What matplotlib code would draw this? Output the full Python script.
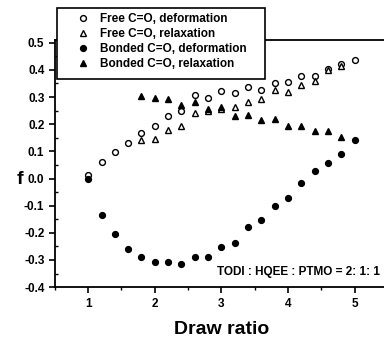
import matplotlib
matplotlib.use('Agg')
import matplotlib.pyplot as plt
from matplotlib.ticker import MultipleLocator
from matplotlib.patches import Rectangle

plt.rcParams['font.family'] = ['Liberation Sans', 'DejaVu Sans']
plt.rcParams['font.weight'] = 'bold'

# Data
x_free_def = [1.0, 1.2, 1.4, 1.6, 1.8, 2.0, 2.2, 2.4, 2.6, 2.8, 3.0,
              3.2, 3.4, 3.6, 3.8, 4.0, 4.2, 4.4, 4.6, 4.8, 5.0]
f_free_def = [0.012, 0.06, 0.097, 0.13, 0.167, 0.192, 0.229, 0.249, 0.306, 0.296, 0.321,
              0.315, 0.338, 0.326, 0.353, 0.355, 0.378, 0.376, 0.405, 0.42, 0.438]

x_free_rel = [1.8, 2.0, 2.2, 2.4, 2.6, 2.8, 3.0, 3.2, 3.4, 3.6, 3.8, 4.0, 4.2, 4.4, 4.6, 4.8]
f_free_rel = [0.14, 0.145, 0.178, 0.195, 0.243, 0.25, 0.255, 0.262, 0.282, 0.292,
              0.325, 0.319, 0.344, 0.358, 0.398, 0.414]

x_bond_def = [1.0, 1.2, 1.4, 1.6, 1.8, 2.0, 2.2, 2.4, 2.6, 2.8, 3.0,
              3.2, 3.4, 3.6, 3.8, 4.0, 4.2, 4.4, 4.6, 4.8, 5.0]
f_bond_def = [0.0, -0.134, -0.204, -0.258, -0.288, -0.308, -0.308, -0.313, -0.288, -0.288, -0.252,
              -0.237, -0.18, -0.152, -0.103, -0.071, -0.018, 0.028, 0.058, 0.089, 0.143]

x_bond_rel = [1.8, 2.0, 2.2, 2.4, 2.6, 2.8, 3.0, 3.2, 3.4, 3.6, 3.8, 4.0, 4.2, 4.4, 4.6, 4.8]
f_bond_rel = [0.304, 0.296, 0.292, 0.271, 0.28, 0.256, 0.262, 0.231, 0.234, 0.215,
              0.219, 0.195, 0.194, 0.176, 0.176, 0.152]

labels = ['Free C=O, deformation', 'Free C=O, relaxation',
          'Bonded C=O, deformation', 'Bonded C=O, relaxation']

W, H = 384, 339
fig = plt.figure(figsize=(W / 100, H / 100), dpi=100)
ax = fig.add_axes([0.143, 0.153, 0.867, 0.729])

ms = 4.2
ax.plot(x_free_def, f_free_def, 'o', ms=ms, mfc='white', mec='black', mew=1.0, label=labels[0])
ax.plot(x_free_rel, f_free_rel, '^', ms=ms + 0.6, mfc='white', mec='black', mew=1.0, label=labels[1])
ax.plot(x_bond_def, f_bond_def, 'o', ms=ms, mfc='black', mec='black', mew=1.0, label=labels[2])
ax.plot(x_bond_rel, f_bond_rel, '^', ms=ms + 0.6, mfc='black', mec='black', mew=1.0, label=labels[3])

ax.set_xlim(0.5, 5.5)
ax.set_ylim(-0.4, 0.51)
ax.xaxis.set_major_locator(MultipleLocator(1))
ax.xaxis.set_minor_locator(MultipleLocator(0.5))
ax.yaxis.set_major_locator(MultipleLocator(0.1))
ax.yaxis.set_minor_locator(MultipleLocator(0.05))
ax.yaxis.set_major_formatter(plt.FuncFormatter(lambda v, p: f'{v:.1f}'))

for s in ax.spines.values():
    s.set_linewidth(1.3)
ax.tick_params(which='major', direction='out', length=4, width=1.2, labelsize=8.5)
ax.tick_params(which='minor', direction='out', length=2, width=1.0)
ax.tick_params(axis='y', which='minor', direction='in')
for lab in ax.get_xticklabels() + ax.get_yticklabels():
    lab.set_fontweight('bold')

ax.set_xlabel('Draw ratio', fontsize=14, fontweight='bold', labelpad=8)
fig.text(0.052, 0.47, 'f', fontsize=14, fontweight='bold', ha='center', va='center')

ax.text(2.93, -0.343, 'TODI : HQEE : PTMO = 2: 1: 1', fontsize=8.5, fontweight='bold',
        ha='left', va='center')

# legend box sits over the top-left corner of the axes
box = Rectangle((57 / W, 1 - 79 / H), 208 / W, 71 / H, transform=fig.transFigure,
                facecolor='white', edgecolor='black', linewidth=1.2, zorder=3)
fig.patches.append(box)
leg = fig.legend(loc='upper left', bbox_to_anchor=(74.7 / W, 1 - 13 / H), frameon=False,
                 prop={'size': 8.5, 'weight': 'bold'}, handletextpad=0.75,
                 borderpad=0, borderaxespad=0, labelspacing=0.25, handlelength=1.4)
leg.set_zorder(4)

fig.savefig('out.png', dpi=100)
